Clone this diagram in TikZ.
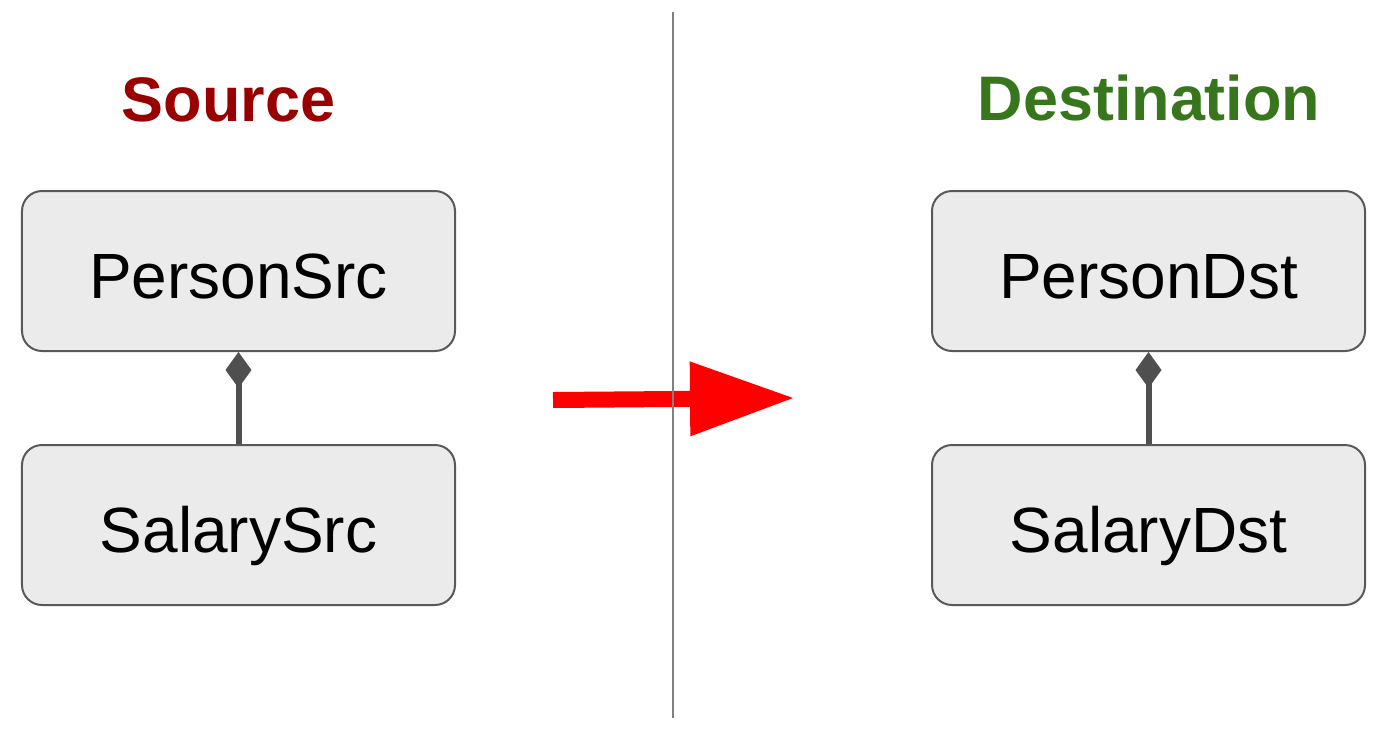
\documentclass[tikz,border=0pt]{standalone}
\usepackage{fontspec}
\setmainfont{Liberation Sans}
\usepackage{xcolor}
\usetikzlibrary{positioning, arrows.meta}

\definecolor{srcred}{HTML}{990000}
\definecolor{dstgreen}{HTML}{38761D}
\definecolor{boxfill}{HTML}{EBEBEB}
\definecolor{boxline}{HTML}{595959}
\definecolor{linkgrey}{HTML}{4F4F4F}

\begin{document}
\begin{tikzpicture}[
  class/.style={rectangle,rounded corners=0.2cm,draw=boxline,fill=boxfill,line width=0.02cm,
    minimum width=4.33cm,minimum height=1.6cm,text height=0.54cm,text depth=0pt,
    font=\fontsize{18.2pt}{20pt}\selectfont},
  title/.style={anchor=base,font=\fontsize{17.9pt}{20pt}\selectfont\bfseries},
  compose/.style={draw=linkgrey,line width=0.06cm,-{Diamond[length=0.36cm,width=0.26cm,line width=0pt]}},
  migrate/.style={draw=red,line width=0.16cm,-{Triangle[length=1.03cm,width=0.75cm,line width=0pt]}},
  node distance=0.92cm
]
\useasboundingbox (0,0) rectangle (13.89,-7.30);

% Titles
\node[title,text=srcred] at (2.285,-1.21) (srctitle) {Source};
\node[title,text=dstgreen] at (11.49,-1.20) (dsttitle) {Destination};

% Source classes
\node[class] at (2.385,-2.71) (personsrc) {PersonSrc};
\node[class,below=of personsrc] (salarysrc) {SalarySrc};

% Destination classes
\node[class] at (11.485,-2.71) (persondst) {PersonDst};
\node[class,below=of persondst] (salarydst) {SalaryDst};

% Composition links
\draw[compose] (salarysrc.north) -- (personsrc.south);
\draw[compose] (salarydst.north) -- (persondst.south);

% Mapping arrow
\coordinate (arrowstart) at (5.53,-4.00);
\coordinate (arrowend) at (7.93,-3.98);
\draw[migrate] (arrowstart) -- (arrowend);

% Divider
\coordinate (divtop) at (6.73,-0.12);
\coordinate (divbottom) at (6.73,-7.18);
\draw[draw=gray,line width=0.02cm] (divtop) -- (divbottom);

\end{tikzpicture}
\end{document}
